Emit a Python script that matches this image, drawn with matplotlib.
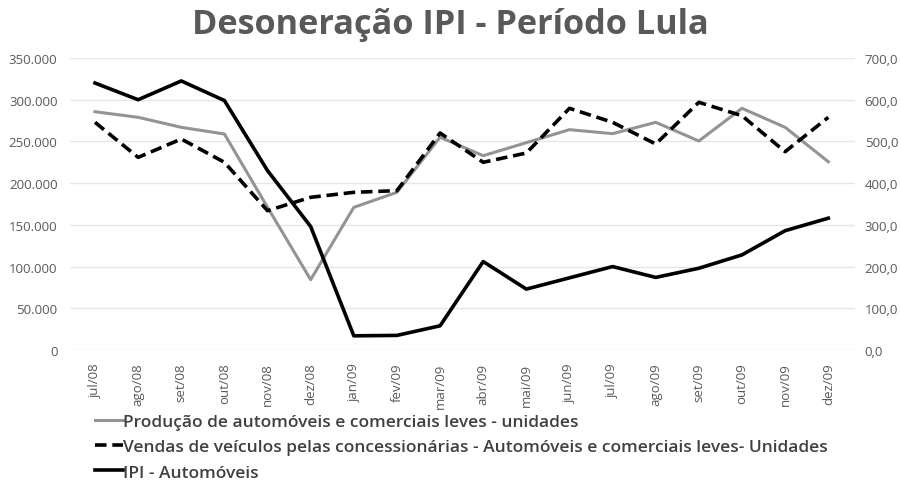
import matplotlib
matplotlib.use("Agg")
import matplotlib.pyplot as plt
from matplotlib.lines import Line2D
from matplotlib.ticker import FuncFormatter

months = ["jul/08", "ago/08", "set/08", "out/08", "nov/08", "dez/08", "jan/09", "fev/09",
          "mar/09", "abr/09", "mai/09", "jun/09", "jul/09", "ago/09", "set/09", "out/09",
          "nov/09", "dez/09"]
producao = [285600, 278900, 266900, 258900, 171000, 84300, 171000, 189000, 255000,
            232900, 248500, 264100, 259300, 272900, 250500, 289700, 266900, 225700]
vendas = [272900, 230900, 252900, 225000, 167000, 183000, 189000, 191000, 260100,
          225000, 236100, 289700, 272900, 246900, 296900, 280800, 237700, 278900]
ipi = [640, 600, 645, 598, 430, 296, 34, 35, 58,
       212, 146, 173, 200, 174, 196, 228, 286, 316]

label_prod = "Produção de automóveis e comerciais leves - unidades"
label_vend = "Vendas de veículos pelas concessionárias - Automóveis e comerciais leves- Unidades"
label_ipi = "IPI - Automóveis"
title = "Desoneração IPI - Período Lula"

plt.rcParams['font.family'] = ['Open Sans', 'DejaVu Sans']
txt = "#595959"

fig = plt.figure(figsize=(9.01, 4.81), dpi=100)
ax = fig.add_axes([70/901, 1-351/481, 785/901, 292/481])
ax2 = ax.twinx()

x = list(range(len(months)))
ax.plot(x, producao, color="#939393", lw=2.2, zorder=3)
ax.plot(x, vendas, color="black", lw=2.6, dashes=(3.2, 1.6), zorder=3)
ax2.plot(x, ipi, color="black", lw=2.6, zorder=3)

ax.set_ylim(0, 350000)
ax2.set_ylim(0, 700)
ax.set_xlim(-0.58, 17.62)
ax.set_yticks(range(0, 350001, 50000))
ax2.set_yticks(range(0, 701, 100))
ax.yaxis.set_major_formatter(FuncFormatter(lambda v, p: "0" if v == 0 else f"{int(v):,}".replace(",", ".")))
ax2.yaxis.set_major_formatter(FuncFormatter(lambda v, p: f"{v:.1f}".replace(".", ",")))
ax.grid(axis="y", color="#e6e6e6", lw=1)
ax.set_axisbelow(True)
for a in (ax, ax2):
    for s in a.spines.values():
        s.set_visible(False)
    a.tick_params(length=0, labelsize=9.5, colors=txt)
ax.tick_params(axis="y", pad=9)
ax2.tick_params(axis="y", pad=7)
ax.set_xticks(x)
ax.set_xticklabels(months, rotation=90, fontsize=9.5, color=txt)
ax.tick_params(axis="x", pad=9)

fig.text(0.5, 1-25/481, title, ha="center", va="center", fontsize=24.7, fontweight="bold", color=txt)

handles = [Line2D([], [], color="#939393", lw=2.2),
           Line2D([], [], color="black", lw=2.6, dashes=(3.2, 1.6)),
           Line2D([], [], color="black", lw=2.6)]
leg = fig.legend(handles, [label_prod, label_vend, label_ipi], loc="upper left",
                 bbox_to_anchor=(95/901, 1-415/481), frameon=False, handlelength=1.62,
                 handletextpad=0.0, labelspacing=0.52, borderpad=0, borderaxespad=0,
                 prop={"weight": "semibold", "size": 12.5})
for t in leg.get_texts():
    t.set_color("#404040")

fig.savefig("out.png", dpi=100)
